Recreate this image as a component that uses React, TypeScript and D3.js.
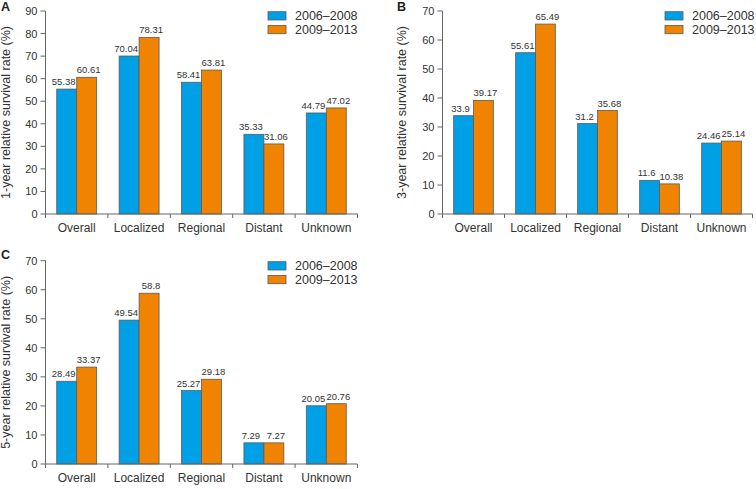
import React from "react";
import * as d3 from "d3";

const categories = ["Overall", "Localized", "Regional", "Distant", "Unknown"];
const seriesNames = ["2006–2008", "2009–2013"];
const oneYear2006 = [55.38, 70.04, 58.41, 35.33, 44.79];
const oneYear2009 = [60.61, 78.31, 63.81, 31.06, 47.02];
const threeYear2006 = [33.9, 55.61, 31.2, 11.6, 24.46];
const threeYear2009 = [39.17, 65.49, 35.68, 10.38, 25.14];
const fiveYear2006 = [28.49, 49.54, 25.27, 7.29, 20.05];
const fiveYear2009 = [33.37, 58.8, 29.18, 7.27, 20.76];
const oneYearTicks = [0, 10, 20, 30, 40, 50, 60, 70, 80, 90];
const sevenTicks = [0, 10, 20, 30, 40, 50, 60, 70];

const COLORS = ["#00a0e6", "#f08300"];
const FONT = "'Liberation Sans', Arial, Helvetica, sans-serif";
const TEXT = "#333";
const AXIS = "#666";

type PanelProps = {
  letter: string;
  yLabel: string;
  a: number[];
  b: number[];
  ticks: number[];
  x0: number;
  x1: number;
  yTop: number;
  yBottom: number;
  letterX: number;
  letterY: number;
  labelX: number;
  legendX: number;
  legendY: number;
};

function Panel(p: PanelProps) {
  const max = p.ticks[p.ticks.length - 1];
  const x = d3.scaleBand<string>().domain(categories).range([p.x0, p.x1]).padding(0);
  const y = d3.scaleLinear().domain([0, max]).range([p.yBottom, p.yTop]);
  const bw = x.bandwidth();
  const barW = bw * 0.32;
  const off = (bw - 2 * barW) / 2;
  const series = [p.a, p.b];
  const boundaries = categories.map((c) => x(c) as number).concat([p.x1]);
  return (
    <g>
      <text x={p.letterX} y={p.letterY} fontSize={12.5} fontWeight="bold" fill="#222" fontFamily={FONT}>
        {p.letter}
      </text>
      <text
        transform={`translate(${p.labelX},${(p.yTop + p.yBottom) / 2}) rotate(-90)`}
        textAnchor="middle"
        fontSize={12.5}
        fill={TEXT}
        fontFamily={FONT}
      >
        {p.yLabel}
      </text>
      {series.map((vals, si) =>
        vals.map((v, i) => {
          const bx = (x(categories[i]) as number) + off + si * barW;
          return (
            <rect
              key={`b${si}-${i}`}
              x={bx}
              y={y(v)}
              width={barW}
              height={p.yBottom - y(v)}
              fill={COLORS[si]}
              stroke="#5a5a5a"
              strokeWidth={0.8}
            />
          );
        })
      )}
      {series.map((vals, si) =>
        vals.map((v, i) => {
          const bx = (x(categories[i]) as number) + off + si * barW + barW / 2 + (si === 0 ? -3 : 2);
          return (
            <text
              key={`l${si}-${i}`}
              x={bx}
              y={y(v) - 4}
              textAnchor="middle"
              fontSize={9.5}
              fill={TEXT}
              fontFamily={FONT}
            >
              {String(v)}
            </text>
          );
        })
      )}
      <line x1={p.x0} x2={p.x0} y1={p.yTop} y2={p.yBottom} stroke={AXIS} strokeWidth={1} />
      {p.ticks.map((t) => (
        <g key={`yt${t}`}>
          <line x1={p.x0 - 5} x2={p.x0} y1={y(t)} y2={y(t)} stroke={AXIS} strokeWidth={1} />
          <text
            x={p.x0 - 8}
            y={y(t)}
            dy="0.36em"
            textAnchor="end"
            fontSize={11}
            fill={TEXT}
            fontFamily={FONT}
          >
            {t}
          </text>
        </g>
      ))}
      <line x1={p.x0} x2={p.x1} y1={p.yBottom} y2={p.yBottom} stroke={AXIS} strokeWidth={1} />
      {boundaries.map((bx, i) => (
        <line key={`xt${i}`} x1={bx} x2={bx} y1={p.yBottom} y2={p.yBottom + 4} stroke={AXIS} strokeWidth={1} />
      ))}
      {categories.map((c) => (
        <text
          key={`c${c}`}
          x={(x(c) as number) + bw / 2}
          y={p.yBottom + 18}
          textAnchor="middle"
          fontSize={12}
          fill={TEXT}
          fontFamily={FONT}
        >
          {c}
        </text>
      ))}
      {seriesNames.map((s, i) => (
        <g key={`lg${i}`}>
          <rect
            x={p.legendX}
            y={p.legendY + i * 13.7 - 8.3}
            width={18}
            height={8.3}
            fill={COLORS[i]}
            stroke="#5a5a5a"
            strokeWidth={0.8}
          />
          <text x={p.legendX + 27} y={p.legendY + i * 13.7} fontSize={12.5} fill={TEXT} fontFamily={FONT}>
            {s}
          </text>
        </g>
      ))}
    </g>
  );
}

export default function App() {
  return (
    <svg
      width={756}
      height={489}
      style={{ position: "absolute", left: 0, top: 0, background: "#fff" }}
    >
      <rect width={756} height={489} fill="#fff" />
      <Panel
        letter="A"
        yLabel="1-year relative survival rate (%)"
        a={oneYear2006}
        b={oneYear2009}
        ticks={oneYearTicks}
        x0={45.5}
        x1={357.5}
        yTop={11}
        yBottom={214}
        letterX={1}
        letterY={11}
        labelX={10}
        legendX={268}
        legendY={20}
      />
      <Panel
        letter="B"
        yLabel="3-year relative survival rate (%)"
        a={threeYear2006}
        b={threeYear2009}
        ticks={sevenTicks}
        x0={442.5}
        x1={752.5}
        yTop={11}
        yBottom={214}
        letterX={397}
        letterY={11}
        labelX={406}
        legendX={665}
        legendY={20}
      />
      <Panel
        letter="C"
        yLabel="5-year relative survival rate (%)"
        a={fiveYear2006}
        b={fiveYear2009}
        ticks={sevenTicks}
        x0={45.5}
        x1={357.5}
        yTop={260.7}
        yBottom={464}
        letterX={1}
        letterY={259}
        labelX={10}
        legendX={268}
        legendY={270}
      />
    </svg>
  );
}
